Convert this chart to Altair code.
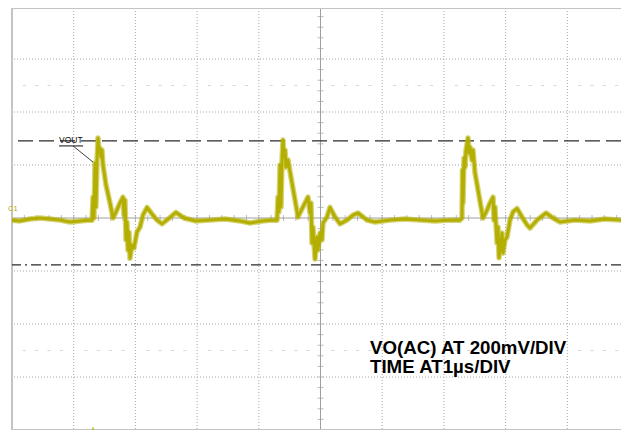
import altair as alt
import pandas as pd

# ---- trace: time in microseconds, voltage in mV (AC coupled)
trace_t = [0.000, 0.130, 0.292, 0.454, 0.616, 0.778, 0.940, 1.102, 1.264,
           1.297, 1.313, 1.329, 1.345, 1.361, 1.378, 1.394, 1.410, 1.426, 1.442, 1.459, 1.475,
           1.523, 1.588, 1.637, 1.686, 1.750, 1.799, 1.815, 1.831, 1.848, 1.864, 1.880, 1.896,
           1.912, 1.945, 1.977, 2.026, 2.075, 2.123, 2.188, 2.269, 2.350, 2.431, 2.528, 2.658,
           2.788, 2.966, 3.209, 3.452, 3.695, 3.857, 4.052, 4.214,
           4.295, 4.311, 4.327, 4.344, 4.360, 4.376, 4.392, 4.408, 4.425, 4.441, 4.473, 4.538,
           4.587, 4.635, 4.716, 4.797, 4.830, 4.846, 4.862, 4.878, 4.911, 4.943, 4.959, 4.992,
           5.024, 5.041, 5.105, 5.154, 5.235, 5.316, 5.429, 5.527, 5.608, 5.754, 5.883, 6.126,
           6.370, 6.613, 6.856, 7.099, 7.261,
           7.293, 7.301, 7.310, 7.326, 7.342, 7.358, 7.391, 7.407, 7.423, 7.455, 7.472, 7.504,
           7.553, 7.618, 7.634, 7.699, 7.747, 7.796, 7.812, 7.828, 7.861, 7.877, 7.893, 7.942,
           7.958, 7.990, 8.023, 8.071, 8.120, 8.185, 8.266, 8.347, 8.395, 8.509, 8.655, 8.768,
           8.882, 9.125, 9.368, 9.611, 9.854, 10.000]
trace_v = [-8, -11, -4, 0, -4, -8, -15, -11, -8,
           -8, 79, 0, 208, 42, 219, 302, 249, 264, 230, 257, 200,
           125, 57, 0, 23, 57, 79, 11, 68, -83, -15, -121, -53,
           -152, -102, -113, -53, -34, 11, 40, 15, -8, -22, -4, 21,
           0, -11, -8, -4, -11, -19, -11, -8,
           -8, 79, 23, 200, 42, 219, 294, 230, 257, 192, 219, 132,
           68, 4, 42, 79, 19, 57, -94, -34, -155, -72, -121, -57,
           -83, -19, 4, 40, 4, -22, -8, 11, 19, -8, -15, -8,
           -4, -8, -11, -8, -8,
           0, 181, 57, 226, 192, 257, 302, 245, 268, 219, 257, 170,
           106, 19, 0, 30, 57, 79, -8, 42, -94, -34, -150, -57,
           -132, -83, -72, -8, 23, 36, 4, -26, -38, -8, 19, 0,
           -15, -8, -11, -4, -8, -11]

# ---- screen graticule (1 us/div, 200 mV/div); the right edge of the last division is off-screen
t_domain = [0, 9.87]
v_domain = [-800, 792.5]
grid_t = [1, 2, 3, 4, 6, 7, 8, 9]
grid_v = [-600, -400, -200, 200, 400, 600]
center_t = [5]
center_v = [0]
border_left = [0]
border_tb = [792.5, -800]
minor_t = [round(0.2 * i, 1) for i in range(1, 50)]
minor_v = [40 * i for i in range(-19, 20) if i != 0]
dot_t = [round(0.2 * i, 1) for i in range(1, 50) if i % 5 != 0]
dot_levels = [500, -500]

# ---- cursors
cursor_high = [291]
cursor_low = [-177]

# ---- annotations
vout_label = ["VOUT"]
vout_pos = [0.762, 283]
vout_underline = [0.762, 1.151, 272]
vout_leader = [0.989, 272, 1.313, 211]
info_lines = ["VO(AC) AT 200mV/DIV", "TIME AT1µs/DIV"]
info_t = [5.802, 5.802]
info_v = [-513, -586]
ch_label = ["C1"]
trig_t = [1.313]

TRACE = "#b3ae00"


def X(field="t"):
    return alt.X(f"{field}:Q", scale=alt.Scale(domain=t_domain, nice=False, zero=False), axis=None)


def Y(field="v"):
    return alt.Y(f"{field}:Q", scale=alt.Scale(domain=v_domain, nice=False, zero=False), axis=None)


grid_x = alt.Chart(pd.DataFrame({"t": grid_t})).mark_rule(
    color="#a8a8a8", strokeWidth=1, strokeDash=[1, 2]).encode(x=X())
grid_y = alt.Chart(pd.DataFrame({"v": grid_v})).mark_rule(
    color="#a8a8a8", strokeWidth=1, strokeDash=[1, 2]).encode(y=Y())
center_x = alt.Chart(pd.DataFrame({"t": center_t})).mark_rule(
    color="#a0a0a0", strokeWidth=1).encode(x=X())
center_y = alt.Chart(pd.DataFrame({"v": center_v})).mark_rule(
    color="#a0a0a0", strokeWidth=1).encode(y=Y())
bord_l = alt.Chart(pd.DataFrame({"t": border_left})).mark_rule(
    color="#c4c4c4", strokeWidth=2).encode(x=X())
bord_tb = alt.Chart(pd.DataFrame({"v": border_tb})).mark_rule(
    color="#c4c4c4", strokeWidth=2).encode(y=Y())
ticks_h = alt.Chart(pd.DataFrame({"t": minor_t, "v": [0] * len(minor_t)})).mark_tick(
    orient="vertical", size=6, thickness=1, color="#a0a0a0").encode(x=X(), y=Y())
ticks_v = alt.Chart(pd.DataFrame({"t": [5] * len(minor_v), "v": minor_v})).mark_tick(
    orient="horizontal", size=6, thickness=1, color="#a0a0a0").encode(x=X(), y=Y())
dots = alt.Chart(pd.DataFrame({
    "t": dot_t * len(dot_levels),
    "v": [lv for lv in dot_levels for _ in dot_t]})).mark_tick(
    orient="horizontal", size=3, thickness=1, color="#c4c4c4").encode(x=X(), y=Y())

cur_hi = alt.Chart(pd.DataFrame({"v": cursor_high})).mark_rule(
    color="#2a2a2a", strokeWidth=1.4, strokeDash=[15, 6]).encode(y=Y())
cur_lo = alt.Chart(pd.DataFrame({"v": cursor_low})).mark_rule(
    color="#2a2a2a", strokeWidth=1.4, strokeDash=[10, 4, 2, 4]).encode(y=Y())

trace_df = pd.DataFrame({"t": trace_t, "v": trace_v, "i": list(range(len(trace_t)))})
trace_halo = alt.Chart(trace_df).mark_line(
    color=TRACE, strokeWidth=5.5, opacity=0.55, strokeJoin="round", clip=True).encode(
    x=X(), y=Y(), order="i:Q")
trace = alt.Chart(trace_df).mark_line(
    color=TRACE, strokeWidth=3, strokeJoin="round", clip=True).encode(
    x=X(), y=Y(), order="i:Q")

vout_text = alt.Chart(pd.DataFrame({"t": [vout_pos[0]], "v": [vout_pos[1]], "s": vout_label})).mark_text(
    align="left", baseline="alphabetic", font="Liberation Sans", fontSize=8.5, color="#111111").encode(
    x=X(), y=Y(), text="s:N")
vout_ul = alt.Chart(pd.DataFrame({"t": [vout_underline[0]], "t2": [vout_underline[1]],
                                  "v": [vout_underline[2]]})).mark_rule(
    color="#111111", strokeWidth=1).encode(x=X(), x2="t2:Q", y=Y())
vout_ld = alt.Chart(pd.DataFrame({"t": [vout_leader[0]], "v": [vout_leader[1]],
                                  "t2": [vout_leader[2]], "v2": [vout_leader[3]]})).mark_rule(
    color="#111111", strokeWidth=0.8).encode(x=X(), y=Y(), x2="t2:Q", y2="v2:Q")

info = alt.Chart(pd.DataFrame({"t": info_t, "v": info_v, "s": info_lines})).mark_text(
    align="left", baseline="alphabetic", font="Liberation Sans", fontSize=18.7,
    fontWeight="bold", color="#000000").encode(x=X(), y=Y(), text="s:N")

c1 = alt.Chart(pd.DataFrame({"t": [-0.064], "v": [25], "s": ch_label})).mark_text(
    align="left", baseline="alphabetic", font="Liberation Sans", fontSize=7.5, color=TRACE).encode(
    x=X(), y=Y(), text="s:N")
trig = alt.Chart(pd.DataFrame({"t": trig_t, "v": [-800]})).mark_tick(
    orient="vertical", size=5, thickness=2, color=TRACE).encode(x=X(), y=Y())

chart = alt.layer(
    grid_x, grid_y, dots, center_x, center_y, ticks_h, ticks_v, bord_l, bord_tb,
    cur_hi, cur_lo, trace_halo, trace, vout_ul, vout_ld, vout_text, info, c1, trig
).properties(
    width=609, height=422,
    padding={"left": 4, "top": 0, "right": 0, "bottom": 0},
    autosize=alt.AutoSizeParams(type="none"),
    background="white",
).configure_view(stroke=None)

chart.save("out.html", embed_options={"renderer": "svg", "actions": False})
